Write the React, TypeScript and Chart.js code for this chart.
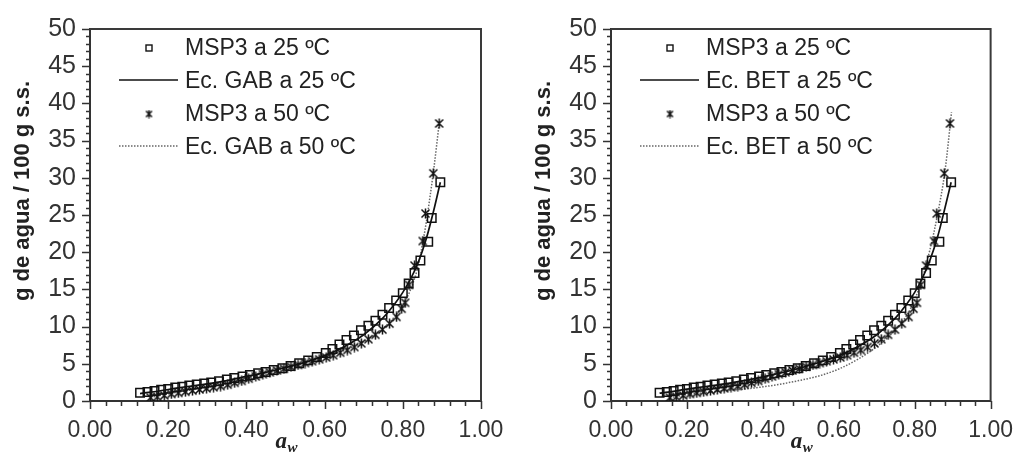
import React, { useEffect, useRef } from 'react';
import { Chart, registerables } from 'chart.js';

Chart.register(...registerables);

// ---------- Data ----------
const awExp25 = [0.128, 0.147, 0.165, 0.182, 0.200, 0.218, 0.236, 0.254, 0.273, 0.292, 0.310, 0.330, 0.350, 0.369, 0.390, 0.409, 0.430, 0.449, 0.470, 0.492, 0.513, 0.535, 0.558, 0.580, 0.603, 0.620, 0.638, 0.656, 0.675, 0.693, 0.712, 0.730, 0.748, 0.765, 0.783, 0.800, 0.815, 0.830, 0.845, 0.865, 0.874, 0.896];
const msp25 = [1.12, 1.2, 1.33, 1.5, 1.63, 1.8, 1.93, 2.1, 2.23, 2.36, 2.5, 2.67, 2.88, 3.1, 3.3, 3.5, 3.74, 3.9, 4.17, 4.4, 4.7, 5.07, 5.46, 5.9, 6.44, 7.0, 7.6, 8.2, 8.8, 9.5, 10.1, 10.8, 11.6, 12.5, 13.5, 14.5, 15.8, 17.2, 18.9, 21.4, 24.6, 29.4];

const awExp50 = [0.155, 0.172, 0.190, 0.208, 0.226, 0.244, 0.262, 0.280, 0.298, 0.316, 0.334, 0.352, 0.370, 0.388, 0.406, 0.424, 0.442, 0.460, 0.478, 0.496, 0.514, 0.532, 0.550, 0.568, 0.586, 0.604, 0.622, 0.640, 0.658, 0.676, 0.694, 0.712, 0.730, 0.748, 0.766, 0.784, 0.797, 0.806, 0.816, 0.830, 0.851, 0.858, 0.878, 0.893];
const msp50 = [0.45, 0.55, 0.75, 0.95, 1.1, 1.25, 1.4, 1.55, 1.7, 1.85, 2.0, 2.2, 2.45, 2.7, 3.0, 3.3, 3.6, 3.85, 4.1, 4.35, 4.6, 4.85, 5.1, 5.35, 5.6, 5.85, 6.15, 6.5, 6.85, 7.25, 7.75, 8.3, 8.9, 9.6, 10.4, 11.3, 12.4, 13.2, 15.6, 18.2, 21.5, 25.2, 30.6, 37.3];

const awFit25 = [0.128, 0.15, 0.20, 0.25, 0.30, 0.35, 0.40, 0.45, 0.50, 0.55, 0.60, 0.65, 0.70, 0.75, 0.78, 0.80, 0.82, 0.84, 0.86, 0.88, 0.896];
const gab25 = [1.0, 1.15, 1.55, 1.95, 2.3, 2.75, 3.3, 3.85, 4.5, 5.2, 6.1, 7.3, 8.9, 11.2, 13.1, 14.6, 16.4, 18.7, 21.8, 25.8, 29.4];
const bet25 = [1.05, 1.2, 1.6, 1.95, 2.3, 2.75, 3.25, 3.8, 4.45, 5.2, 6.1, 7.3, 8.9, 11.2, 13.1, 14.6, 16.5, 18.9, 22.0, 26.0, 29.4];

const awFit50 = [0.155, 0.20, 0.25, 0.30, 0.35, 0.40, 0.45, 0.50, 0.55, 0.60, 0.65, 0.70, 0.75, 0.78, 0.80, 0.82, 0.84, 0.85, 0.86, 0.87, 0.88, 0.893];
const gab50 = [0.5, 0.95, 1.4, 1.85, 2.3, 2.9, 3.6, 4.4, 5.1, 5.9, 6.8, 8.0, 9.8, 11.4, 12.9, 15.0, 18.3, 21.0, 24.0, 27.6, 31.5, 37.3];

const awBet50 = [0.155, 0.20, 0.25, 0.30, 0.35, 0.40, 0.45, 0.50, 0.55, 0.60, 0.65, 0.70, 0.75, 0.78, 0.80, 0.82, 0.84, 0.86, 0.88, 0.897];
const bet50 = [0.45, 0.85, 1.15, 1.4, 1.6, 1.9, 2.3, 2.8, 3.4, 4.3, 5.6, 7.3, 9.6, 11.6, 13.6, 16.5, 20.3, 25.0, 31.0, 38.8];

const legendGAB = ['MSP3 a 25 ºC', 'Ec. GAB a 25 ºC', 'MSP3 a 50 ºC', 'Ec. GAB a 50 ºC'];
const legendBET = ['MSP3 a 25 ºC', 'Ec. BET a 25 ºC', 'MSP3 a 50 ºC', 'Ec. BET a 50 ºC'];

const yTitle = 'g de agua / 100 g s.s.';
const xTitleMain = 'a';
const xTitleSub = 'w';

const X_MIN = 0, X_MAX = 1, X_STEP = 0.2, X_MINOR = 0.04;
const Y_MIN = 0, Y_MAX = 50, Y_STEP = 5, Y_MINOR = 1;

// ---------- Helpers ----------
const zip = (xs: number[], ys: number[]) => xs.map((x, i) => ({ x, y: ys[i] }));

function makeStar(size: number, lw: number): HTMLCanvasElement {
  const c = document.createElement('canvas');
  c.width = size; c.height = size;
  const g = c.getContext('2d')!;
  g.strokeStyle = '#111';
  g.lineWidth = lw;
  g.lineCap = 'butt';
  const m = 1.5, e = size - 1.5, h = size / 2;
  g.beginPath();
  g.moveTo(m, m); g.lineTo(e, e);
  g.moveTo(e, m); g.lineTo(m, e);
  g.moveTo(h, 0.5); g.lineTo(h, size - 0.5);
  g.stroke();
  return c;
}

type PanelProps = {
  width: number;
  left: number;
  areaLeft: number;
  areaRight: number;
  fit25x: number[];
  fit25y: number[];
  fit50x: number[];
  fit50y: number[];
  legend: string[];
};

const AREA_TOP = 13;
const AREA_BOTTOM = 401;
const HEIGHT = 469;

function Panel(p: PanelProps) {
  const ref = useRef<HTMLCanvasElement | null>(null);

  useEffect(() => {
    const canvas = ref.current!;
    const star = makeStar(11, 1.5);
    const starSmall = makeStar(9, 1.5);

    const decor = {
      id: 'decor',
      afterDraw(chart: any) {
        const ctx = chart.ctx as CanvasRenderingContext2D;
        const xs = chart.scales.x, ys = chart.scales.y;
        const a = chart.chartArea;
        ctx.save();
        // frame (top & right)
        ctx.strokeStyle = '#3a3a3a';
        ctx.lineWidth = 2;
        ctx.beginPath();
        ctx.moveTo(a.left, a.top);
        ctx.lineTo(a.right, a.top);
        ctx.lineTo(a.right, a.bottom);
        ctx.stroke();
        // tick marks
        ctx.lineWidth = 1.5;
        ctx.strokeStyle = '#333';
        ctx.beginPath();
        for (let i = 0; i <= Math.round((Y_MAX - Y_MIN) / Y_MINOR); i++) {
          const v = Y_MIN + i * Y_MINOR;
          const py = Math.round(ys.getPixelForValue(v)) + 0.5;
          const len = i % Math.round(Y_STEP / Y_MINOR) === 0 ? 8 : 4;
          ctx.moveTo(a.left - len, py);
          ctx.lineTo(a.left, py);
        }
        for (let i = 0; i <= Math.round((X_MAX - X_MIN) / X_MINOR); i++) {
          const v = X_MIN + i * X_MINOR;
          const px = Math.round(xs.getPixelForValue(v)) + 0.5;
          const len = i % Math.round(X_STEP / X_MINOR) === 0 ? 8 : 5;
          ctx.moveTo(px, a.bottom);
          ctx.lineTo(px, a.bottom + len);
        }
        ctx.stroke();

        // y title
        ctx.fillStyle = '#222';
        ctx.font = 'bold 22px "Liberation Sans", Arial, sans-serif';
        ctx.textAlign = 'center';
        ctx.textBaseline = 'middle';
        ctx.save();
        ctx.translate(a.left - 67, 191);
        ctx.rotate(-Math.PI / 2);
        ctx.fillText(yTitle, 0, 0);
        ctx.restore();

        // x title a_w
        const cx = (a.left + a.right) / 2;
        ctx.textAlign = 'left';
        ctx.textBaseline = 'alphabetic';
        ctx.font = 'bold italic 23px "Liberation Serif", serif';
        const aw = ctx.measureText(xTitleMain).width;
        ctx.fillText(xTitleMain, cx - 10, 448);
        ctx.font = 'bold italic 15px "Liberation Serif", serif';
        ctx.fillText(xTitleSub, cx - 10 + aw + 0.5, 452);

        // legend
        const rows = [49, 82, 115, 148];
        const mx = a.left + 59;
        const l0 = a.left + 29, l1 = a.left + 88;
        const tx = a.left + 95;
        ctx.font = '23px "Liberation Sans", Arial, sans-serif';
        ctx.textBaseline = 'middle';
        ctx.fillStyle = '#222';
        p.legend.forEach((t, i) => ctx.fillText(t, tx, rows[i]));
        // marker square
        ctx.strokeStyle = '#111';
        ctx.lineWidth = 1.4;
        ctx.strokeRect(mx - 3, rows[0] - 4, 6, 6);
        // solid line
        ctx.lineWidth = 1.7;
        ctx.beginPath();
        ctx.moveTo(l0, rows[1] - 2);
        ctx.lineTo(l1, rows[1] - 2);
        ctx.stroke();
        // star
        ctx.drawImage(starSmall, mx - 4.5, rows[2] - 5.5);
        // dotted line
        ctx.strokeStyle = '#666';
        ctx.lineWidth = 1.5;
        ctx.setLineDash([1.5, 1.5]);
        ctx.beginPath();
        ctx.moveTo(l0, rows[3] - 2);
        ctx.lineTo(l1, rows[3] - 2);
        ctx.stroke();
        ctx.restore();
      },
    };

    const xFont = { family: '"Liberation Sans", Arial, sans-serif', size: 23 };
    const yFont = { family: '"Liberation Sans", Arial, sans-serif', size: 25 };

    const chart = new Chart(canvas, {
      type: 'scatter',
      data: {
        datasets: [
          {
            label: p.legend[1],
            data: zip(p.fit25x, p.fit25y),
            showLine: true,
            pointRadius: 0,
            borderColor: '#111',
            borderWidth: 1.7,
            cubicInterpolationMode: 'monotone',
            order: 3,
          },
          {
            label: p.legend[3],
            data: zip(p.fit50x, p.fit50y),
            showLine: true,
            pointRadius: 0,
            borderColor: '#666',
            borderWidth: 1.5,
            borderDash: [1.5, 1.5],
            cubicInterpolationMode: 'monotone',
            order: 4,
          },
          {
            label: p.legend[2],
            data: zip(awExp50, msp50),
            showLine: false,
            pointStyle: star as any,
            pointRadius: 5,
            order: 2,
          },
          {
            label: p.legend[0],
            data: zip(awExp25, msp25),
            showLine: false,
            pointStyle: 'rect',
            pointRadius: 6,
            pointBorderWidth: 1.5,
            pointBorderColor: '#111',
            pointBackgroundColor: 'rgba(255,255,255,0)',
            order: 1,
          },
        ] as any,
      },
      options: {
        animation: false,
        responsive: false,
        maintainAspectRatio: false,
        events: [],
        layout: {
          padding: { top: AREA_TOP, left: 0, bottom: 0, right: p.width - p.areaRight },
        },
        plugins: {
          legend: { display: false },
          tooltip: { enabled: false },
        },
        scales: {
          x: {
            type: 'linear',
            min: X_MIN,
            max: X_MAX,
            grid: { display: false, drawTicks: false },
            border: { display: true, color: '#333', width: 2 },
            ticks: {
              stepSize: X_STEP,
              maxRotation: 0,
              autoSkip: false,
              padding: 16,
              color: '#333',
              font: xFont,
              callback: (v: any) => Number(v).toFixed(2),
            },
            afterFit: (s: any) => { s.height = HEIGHT - AREA_BOTTOM; },
          },
          y: {
            type: 'linear',
            min: Y_MIN,
            max: Y_MAX,
            grid: { display: false, drawTicks: false },
            border: { display: true, color: '#333', width: 2 },
            ticks: {
              stepSize: Y_STEP,
              autoSkip: false,
              padding: 14,
              color: '#333',
              font: yFont,
            },
            afterFit: (s: any) => { s.width = p.areaLeft; },
          },
        },
      } as any,
      plugins: [decor],
    });
    return () => chart.destroy();
  }, []);

  return (
    <canvas
      ref={ref}
      width={p.width}
      height={HEIGHT}
      style={{ position: 'absolute', left: p.left, top: 0, width: p.width, height: HEIGHT }}
    />
  );
}

export default function App() {
  return (
    <div style={{ position: 'fixed', left: 0, top: 0, width: 1029, height: 469, background: '#fff', overflow: 'hidden' }}>
      <Panel width={520} left={0} areaLeft={90} areaRight={481}
        fit25x={awFit25} fit25y={gab25} fit50x={awFit50} fit50y={gab50} legend={legendGAB} />
      <Panel width={509} left={520} areaLeft={91} areaRight={483}
        fit25x={awFit25} fit25y={bet25} fit50x={awBet50} fit50y={bet50} legend={legendBET} />
    </div>
  );
}
